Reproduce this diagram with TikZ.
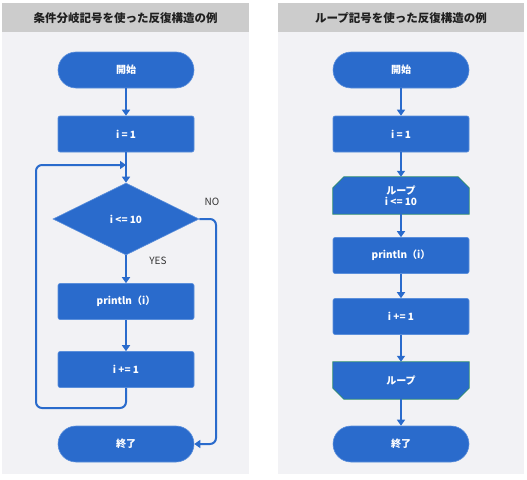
\documentclass[tikz,border=0pt]{standalone}
\usepackage{fontspec}
\setmainfont{Noto Sans CJK JP}
\usetikzlibrary{arrows.meta,shapes.geometric}
\definecolor{fcblue}{HTML}{2A6BCC}
\definecolor{fcedge}{HTML}{5B8FDB}
\definecolor{panel}{HTML}{F2F2F5}
\definecolor{titlebar}{HTML}{CCCCCC}
\definecolor{loopedge}{HTML}{2E8B6E}
\definecolor{lbl}{HTML}{333333}
\pgfdeclarelayer{bg}
\pgfdeclarelayer{mid}
\pgfsetlayers{bg,mid,main}
\tikzset{
  base/.style={fill=fcblue, draw=fcedge, line width=0.6pt, text=white,
    font=\bfseries\fontsize{10}{11}\selectfont, minimum width=136pt, minimum height=36pt, inner sep=0pt},
  term/.style={base, rounded corners=18pt},
  proc/.style={base, rounded corners=2pt},
  decision/.style={base, diamond, minimum width=146pt, minimum height=72pt},
  loopnode/.style={text=white, font=\bfseries\fontsize{10}{11}\selectfont, minimum width=136pt,
    minimum height=37pt, inner sep=0pt, align=center},
  loopshape/.style={fill=fcblue, draw=loopedge, line width=0.8pt},
  conn/.style={draw=fcblue, line width=2pt, -{Triangle[width=8pt,length=6pt]}},
  connplain/.style={draw=fcblue, line width=2pt},
  titletext/.style={font=\bfseries\fontsize{11.5}{13}\selectfont, text=black!88},
  yn/.style={font=\fontsize{10}{12}\selectfont, text=lbl},
}
\begin{document}
\begin{tikzpicture}[x=1pt,y=-1pt]
\useasboundingbox (0,0) rectangle (527,479);
\begin{pgfonlayer}{bg}
  \fill[white] (0,0) rectangle (527,479);
  \fill[panel] (2,3) rectangle (249,474);
  \fill[titlebar] (2,3) rectangle (249,32);
  \fill[panel] (278,3) rectangle (524,474);
  \fill[titlebar] (278,3) rectangle (524,32);
\end{pgfonlayer}
\node[titletext] (t1) at (125.5,18) {条件分岐記号を使った反復構造の例};
\node[titletext] (t2) at (401,18) {ループ記号を使った反復構造の例};

% left flowchart
\node[term] (s1) at (126,70) {開始};
\node[proc] (i1) at (126,134) {i = 1};
\node[decision] (d1) at (126,219) {i <= 10};
\node[proc] (p1) at (126,301.5) {println（i）};
\node[proc] (a1) at (126,369.5) {i += 1};
\node[term] (e1) at (126,444) {終了};
\coordinate (merge) at (126,165);
\coordinate (lb) at (36,408);
\coordinate (nb) at (216,444);
\draw[conn] (s1) -- (i1);
\draw[conn] (i1) -- (d1);
\draw[conn] (d1) -- (p1);
\draw[conn] (p1) -- (a1);
\draw[conn, rounded corners=6pt] (a1.south) |- (lb) |- (merge);
\draw[conn, rounded corners=6pt] (d1.east) -| (nb) -- (e1.east);
\node[yn] (yes) at (158,261) {YES};
\node[yn] (no) at (212,202) {NO};

% right flowchart
\node[term] (s2) at (401,70) {開始};
\node[proc] (i2) at (401,134) {i = 1};
\node[loopnode] (l2) at (401,195.5) {ループ\\i <= 10};
\node[proc] (p2) at (401,255.5) {println（i）};
\node[proc] (a2) at (401,316.5) {i += 1};
\node[loopnode] (m2) at (401,380.5) {ループ};
\node[term] (e2) at (401,444) {終了};
\begin{pgfonlayer}{mid}
  \path[loopshape] (l2.south west) -- ([shift={(0,11)}]l2.north west) -- ([shift={(11,0)}]l2.north west)
    -- ([shift={(-11,0)}]l2.north east) -- ([shift={(0,11)}]l2.north east) -- (l2.south east) -- cycle;
  \path[loopshape] (m2.north west) -- ([shift={(0,-11)}]m2.south west) -- ([shift={(11,0)}]m2.south west)
    -- ([shift={(-11,0)}]m2.south east) -- ([shift={(0,-11)}]m2.south east) -- (m2.north east) -- cycle;
\end{pgfonlayer}
\draw[conn] (s2) -- (i2);
\draw[conn] (i2) -- (l2);
\draw[conn] (l2) -- (p2);
\draw[conn] (p2) -- (a2);
\draw[conn] (a2) -- (m2);
\draw[conn] (m2) -- (e2);
\end{tikzpicture}
\end{document}
